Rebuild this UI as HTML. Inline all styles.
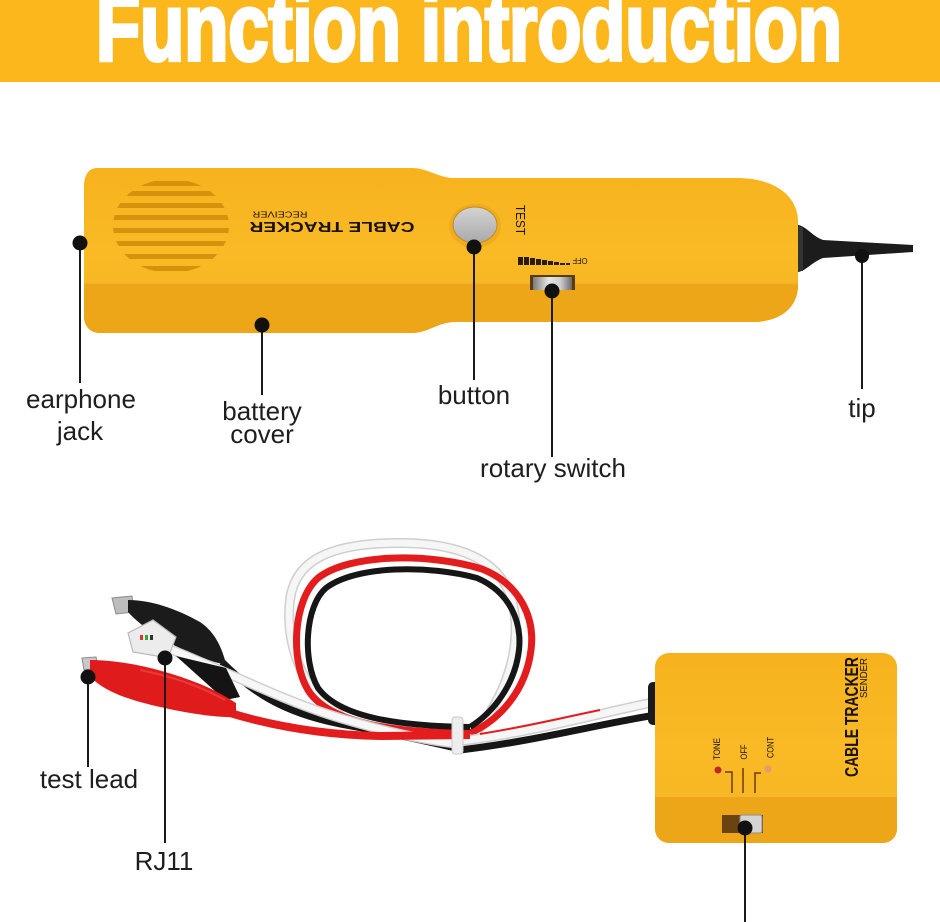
<!DOCTYPE html>
<html>
<head>
<meta charset="utf-8">
<style>
  html,body{margin:0;padding:0;background:#fff;}
  body{width:940px;height:922px;overflow:hidden;}
  svg{display:block;}
  .lbl{font-family:"Liberation Sans",Arial,sans-serif;font-size:26px;fill:#1e1e1e;text-anchor:middle;}
</style>
</head>
<body>
<svg width="940" height="922" viewBox="0 0 940 922" xmlns="http://www.w3.org/2000/svg">
  <defs>
    <clipPath id="recvClip">
      <path d="M97,168 L412,168 C428,168 438,178 455,178 L737,178 C772,178 797,194 798,220 L798,285 C798,308 780,322 752,322 L455,322 C438,322 428,333 412,333 L100,333 C90,333 84,326 84,316 L84,186 C84,175 89,168 97,168 Z"/>
    </clipPath>
    <clipPath id="sendClip">
      <rect x="655" y="653" width="242" height="190" rx="14"/>
    </clipPath>
    <clipPath id="spk">
      <ellipse cx="171" cy="226" rx="58" ry="47"/>
    </clipPath>
    <linearGradient id="btnG" x1="0" y1="0" x2="0" y2="1">
      <stop offset="0" stop-color="#d4d4d4"/>
      <stop offset="1" stop-color="#a9a9a9"/>
    </linearGradient>
    <linearGradient id="wheelG" x1="0" y1="0" x2="1" y2="0">
      <stop offset="0" stop-color="#7a7a7a"/>
      <stop offset="0.4" stop-color="#e6e6e6"/>
      <stop offset="0.7" stop-color="#cfcfcf"/>
      <stop offset="1" stop-color="#6a6a6a"/>
    </linearGradient>
    <linearGradient id="faceG" x1="0" y1="0" x2="0" y2="1">
      <stop offset="0" stop-color="#f6b21c"/>
      <stop offset="0.5" stop-color="#f9ba26"/>
      <stop offset="1" stop-color="#f6b420"/>
    </linearGradient>
  </defs>

  <!-- Header -->
  <rect x="0" y="0" width="940" height="82" fill="#fcb71d"/>
  <text x="96" y="60" textLength="746" lengthAdjust="spacingAndGlyphs"
        font-family="'Liberation Sans Narrow','Liberation Sans',Arial,sans-serif"
        font-weight="bold" font-size="96" fill="#fff" stroke="#fff" stroke-width="4">Function introduction</text>

  <!-- ===== Receiver ===== -->
  <g clip-path="url(#recvClip)">
    <rect x="80" y="160" width="730" height="180" fill="url(#faceG)"/>
    <rect x="80" y="282" width="730" height="60" fill="#eca617"/>
    <rect x="80" y="282" width="730" height="2" fill="#f7bb34" opacity="0.7"/>
  </g>

  <!-- speaker grille -->
  <g clip-path="url(#spk)">
    <rect x="110" y="181" width="125" height="5" fill="#d6920c"/>
    <rect x="110" y="191" width="125" height="5" fill="#d6920c"/>
    <rect x="110" y="203" width="125" height="5" fill="#d6920c"/>
    <rect x="110" y="215" width="125" height="5" fill="#d6920c"/>
    <rect x="110" y="228" width="125" height="5" fill="#d6920c"/>
    <rect x="110" y="241" width="125" height="5" fill="#d6920c"/>
    <rect x="110" y="254" width="125" height="5" fill="#d6920c"/>
    <rect x="110" y="266" width="125" height="5" fill="#d6920c"/>
  </g>

  <!-- CABLE TRACKER upside-down -->
  <text x="332" y="232" text-anchor="middle" textLength="165" lengthAdjust="spacingAndGlyphs"
        font-family="'Liberation Sans',Arial,sans-serif" font-weight="bold" font-size="15" fill="#1a1208"
        transform="rotate(180 332 227)">CABLE TRACKER</text>
  <text x="280" y="217.5" text-anchor="middle" textLength="55" lengthAdjust="spacingAndGlyphs"
        font-family="'Liberation Sans',Arial,sans-serif" font-size="8.5" fill="#1a1208"
        transform="rotate(180 280 214.5)">RECEIVER</text>

  <!-- button -->
  <ellipse cx="475" cy="226" rx="26" ry="22" fill="#eaa416" opacity="0.6"/>
  <ellipse cx="475" cy="225" rx="22" ry="18" fill="url(#btnG)" stroke="#c08a2a" stroke-width="1"/>

  <!-- TEST -->
  <text x="521" y="225" text-anchor="middle" textLength="30" lengthAdjust="spacingAndGlyphs"
        font-family="'Liberation Sans',Arial,sans-serif" font-size="13" fill="#1a1208"
        transform="rotate(90 521 220)">TEST</text>

  <!-- level bars -->
  <g fill="#2a1c0a">
    <rect x="518" y="257" width="5" height="8"/>
    <rect x="524" y="257" width="5" height="8"/>
    <rect x="530" y="258" width="5" height="7"/>
    <rect x="536" y="259" width="5" height="6"/>
    <rect x="542" y="260" width="5" height="5"/>
    <rect x="548" y="261" width="5" height="4"/>
    <rect x="554" y="262" width="5" height="3"/>
    <rect x="560" y="263" width="5" height="2"/>
    <rect x="566" y="263" width="4" height="2"/>
  </g>
  <text x="580" y="264" text-anchor="middle" textLength="15" lengthAdjust="spacingAndGlyphs"
        font-family="'Liberation Sans',Arial,sans-serif" font-size="8" fill="#1a1208"
        transform="rotate(180 580 261)">OFF</text>

  <!-- rotary switch -->
  <rect x="530" y="275" width="45" height="15" fill="#5b3a0c"/>
  <rect x="533" y="277" width="39" height="13" fill="url(#wheelG)"/>

  <!-- tip -->
  <path d="M798,225 C806,226 812,236 823,240 L913,245 L913,252 L823,258 C812,262 806,271 798,272 Z" fill="#1c1c1c"/>
  <path d="M798,226 L803,227 L803,271 L798,271 Z" fill="#333"/>

  <!-- ===== Cables ===== -->
  <!-- white loop outline & fill -->
  <path d="M340,715 C300,690 285,640 290,600 C295,560 330,543 400,543 C460,543 500,560 512,600 C522,640 512,690 470,740" fill="none" stroke="#cfcfcf" stroke-width="10" stroke-linecap="round"/>
  <path d="M340,715 C300,690 285,640 290,600 C295,560 330,543 400,543 C460,543 500,560 512,600 C522,640 512,690 470,740" fill="none" stroke="#f6f6f6" stroke-width="7" stroke-linecap="round"/>
  <!-- red loop -->
  <path d="M470,733 C400,733 330,725 308,690 C290,660 293,600 318,578 C350,553 430,553 482,569 C522,585 535,620 531,650 C526,690 500,720 470,733" fill="none" stroke="#e31d1d" stroke-width="7"/>
  <!-- black loop -->
  <path d="M470,727 C400,726 340,718 318,688 C302,660 305,606 326,588 C356,565 430,565 477,578 C510,592 522,622 519,650 C515,684 494,712 470,727" fill="none" stroke="#161616" stroke-width="6"/>

  <!-- bundle to sender -->
  <path d="M460,741 C530,733 600,713 650,703" fill="none" stroke="#cfcfcf" stroke-width="10"/>
  <path d="M460,741 C530,733 600,713 650,703" fill="none" stroke="#f6f6f6" stroke-width="7"/>
  <path d="M460,750 C530,742 600,724 650,716" fill="none" stroke="#161616" stroke-width="7"/>
  <path d="M480,734 C530,726 570,716 600,710" fill="none" stroke="#e31d1d" stroke-width="2"/>

  <!-- black lead -->
  <path d="M222,662 C250,690 280,712 340,724 C390,733 430,742 460,749" fill="none" stroke="#161616" stroke-width="7"/>
  <!-- white lead -->
  <path d="M172,650 C220,668 280,700 340,718 C390,733 430,741 460,744" fill="none" stroke="#cfcfcf" stroke-width="10"/>
  <path d="M172,650 C220,668 280,700 340,718 C390,733 430,741 460,744" fill="none" stroke="#f7f7f7" stroke-width="7"/>
  <!-- red lead -->
  <path d="M230,713 C280,728 330,735 380,736 L470,735" fill="none" stroke="#e31d1d" stroke-width="8"/>

  <!-- cable tie -->
  <rect x="452" y="717" width="11" height="37" rx="3" fill="#ededed" stroke="#c9c9c9" stroke-width="1"/>

  <!-- black clip -->
  <path d="M112,598 L132,596 L134,612 L116,614 Z" fill="#bdbdbd" stroke="#8a8a8a" stroke-width="1"/>
  <path d="M128,600 C150,600 175,608 200,622 C215,632 222,648 226,664 C215,664 200,656 185,650 C160,640 140,625 128,612 Z" fill="#1b1b1b"/>
  <path d="M176,656 L226,668 L240,697 L225,700 Z" fill="#141414"/>

  <!-- RJ11 plug -->
  <path d="M128,633 L153,620 L176,637 L168,658 L133,652 Z" fill="#ececec" stroke="#b9b9b9" stroke-width="1.2"/>
  <rect x="140" y="635" width="3" height="5" fill="#d33"/>
  <rect x="145" y="635" width="3" height="5" fill="#3a3"/>
  <rect x="150" y="635" width="3" height="5" fill="#333"/>

  <!-- red clip -->
  <path d="M82,658 L96,657 L98,668 L84,670 Z" fill="#c8c8c8" stroke="#8a8a8a" stroke-width="1"/>
  <path d="M90,660 C120,660 160,668 200,684 C215,690 228,698 236,703 L236,717 C210,718 170,710 140,702 C115,695 98,686 90,676 Z" fill="#e01b1b"/>
  <path d="M140,670 C170,676 200,686 225,700" fill="none" stroke="#f25050" stroke-width="2" opacity="0.6"/>

  <!-- ===== Sender ===== -->
  <rect x="648" y="682" width="12" height="43" rx="5" fill="#1a1a1a"/>
  <g clip-path="url(#sendClip)">
    <rect x="650" y="650" width="250" height="200" fill="url(#faceG)"/>
    <rect x="650" y="795" width="250" height="50" fill="#eca617"/>
    <rect x="650" y="795" width="250" height="2" fill="#f7bb34" opacity="0.8"/>
  </g>

  <text x="850" y="725" text-anchor="middle" textLength="120" lengthAdjust="spacingAndGlyphs"
        font-family="'Liberation Sans',Arial,sans-serif" font-weight="bold" font-size="18" fill="#1a1208"
        transform="rotate(-90 850 717)">CABLE TRACKER</text>
  <text x="864" y="681" text-anchor="middle" textLength="40" lengthAdjust="spacingAndGlyphs"
        font-family="'Liberation Sans',Arial,sans-serif" font-size="10" fill="#1a1208"
        transform="rotate(-90 864 678)">SENDER</text>

  <text x="716.5" y="752.5" text-anchor="middle" textLength="22" lengthAdjust="spacingAndGlyphs"
        font-family="'Liberation Sans',Arial,sans-serif" font-size="9" fill="#1a1208"
        transform="rotate(-90 716.5 749)">TONE</text>
  <text x="743.5" y="755.5" text-anchor="middle" textLength="15" lengthAdjust="spacingAndGlyphs"
        font-family="'Liberation Sans',Arial,sans-serif" font-size="9" fill="#1a1208"
        transform="rotate(-90 743.5 752)">OFF</text>
  <text x="770" y="751" text-anchor="middle" textLength="21" lengthAdjust="spacingAndGlyphs"
        font-family="'Liberation Sans',Arial,sans-serif" font-size="9" fill="#1a1208"
        transform="rotate(-90 770 747.5)">CONT</text>
  <circle cx="718" cy="770" r="3.5" fill="#c0262a"/>
  <circle cx="768" cy="769" r="3.5" fill="#e39a6e"/>
  <path d="M725,772 L732,772 L732,793" fill="none" stroke="#6b3a10" stroke-width="1.5"/>
  <path d="M743,768 L743,793" fill="none" stroke="#6b3a10" stroke-width="1.5"/>
  <path d="M761,773 L755,773 L755,793" fill="none" stroke="#6b3a10" stroke-width="1.5"/>

  <rect x="722" y="815" width="41" height="18" fill="#6a4410"/>
  <rect x="740" y="815" width="22" height="18" rx="2" fill="#d4d4d4" stroke="#8d8d8d" stroke-width="1"/>

  <!-- ===== Pointer lines & dots ===== -->
  <g stroke="#1a1a1a" stroke-width="2">
    <line x1="80" y1="243" x2="80" y2="383"/>
    <line x1="262" y1="325" x2="262" y2="395"/>
    <line x1="474" y1="247" x2="474" y2="380"/>
    <line x1="552" y1="291" x2="552" y2="457"/>
    <line x1="862" y1="256" x2="862" y2="389"/>
    <line x1="88" y1="677" x2="88" y2="767"/>
    <line x1="165" y1="658" x2="165" y2="843"/>
    <line x1="745" y1="828" x2="745" y2="922"/>
  </g>
  <g fill="#111">
    <circle cx="80" cy="243" r="7.5"/>
    <circle cx="262" cy="325" r="7.5"/>
    <circle cx="474" cy="247" r="7.5"/>
    <circle cx="552" cy="291" r="7.5"/>
    <circle cx="862" cy="256" r="7"/>
    <circle cx="88" cy="677" r="7.5"/>
    <circle cx="165" cy="658" r="7.5"/>
    <circle cx="745" cy="828" r="7.5"/>
  </g>

  <!-- Labels -->
  <text class="lbl" x="81" y="408">earphone</text>
  <text class="lbl" x="80" y="440">jack</text>
  <text class="lbl" x="262" y="420">battery</text>
  <text class="lbl" x="262" y="443">cover</text>
  <text class="lbl" x="474" y="404">button</text>
  <text class="lbl" x="553" y="477">rotary switch</text>
  <text class="lbl" x="862" y="417">tip</text>
  <text class="lbl" x="89" y="788">test lead</text>
  <text class="lbl" x="164" y="870">RJ11</text>
</svg>
</body>
</html>
